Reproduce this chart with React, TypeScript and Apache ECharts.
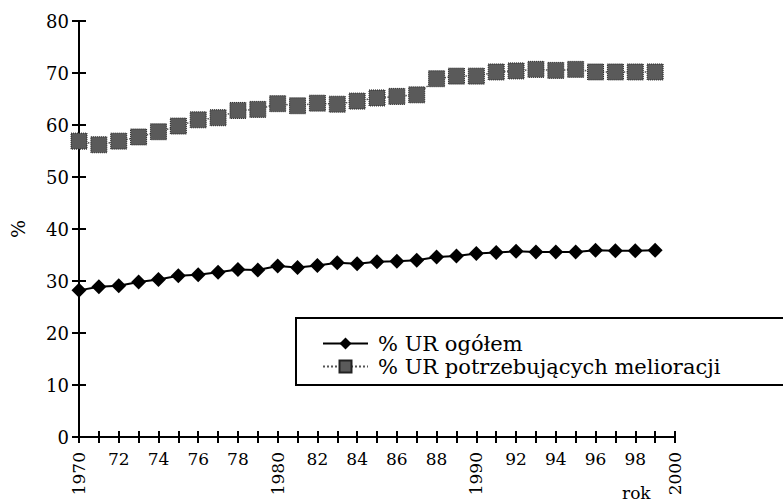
import React, { useEffect, useRef } from "react";
import * as echarts from "echarts";

const years = [1970, 1971, 1972, 1973, 1974, 1975, 1976, 1977, 1978, 1979, 1980, 1981, 1982, 1983, 1984, 1985, 1986, 1987, 1988, 1989, 1990, 1991, 1992, 1993, 1994, 1995, 1996, 1997, 1998, 1999];
const ogolem = [28.2, 28.9, 29.1, 29.8, 30.3, 31.0, 31.2, 31.7, 32.2, 32.1, 32.9, 32.6, 33.0, 33.5, 33.3, 33.7, 33.8, 34.0, 34.6, 34.8, 35.3, 35.5, 35.7, 35.6, 35.6, 35.6, 35.9, 35.8, 35.8, 35.9];
const melioracji = [56.9, 56.2, 56.9, 57.7, 58.7, 59.8, 61.0, 61.4, 62.8, 63.0, 64.1, 63.7, 64.2, 64.0, 64.6, 65.2, 65.5, 65.8, 68.9, 69.4, 69.4, 70.2, 70.4, 70.7, 70.5, 70.7, 70.2, 70.2, 70.2, 70.2];
const seriesNames = ["% UR ogółem", "% UR potrzebujących melioracji"];
const yAxisName = "%";
const xAxisName = "rok";

const FONT = "DejaVu Serif";

export default function App() {
  const ref = useRef<HTMLDivElement>(null);
  useEffect(() => {
    document.body.style.margin = "0";
    const chart = echarts.init(ref.current!, null, { renderer: "svg" });
    const xBase = {
      type: "value",
      position: "bottom",
      min: 1970,
      max: 2000,
      interval: 1,
      splitLine: { show: false },
      axisLine: { show: true, onZero: false, lineStyle: { color: "#000", width: 2 } },
    };
    const yBase = {
      type: "value",
      position: "left",
      min: 0,
      max: 80,
      interval: 10,
      splitLine: { show: false },
      axisLine: { show: true, onZero: false, lineStyle: { color: "#000", width: 2 } },
    };
    chart.setOption({
      animation: false,
      backgroundColor: "#fff",
      textStyle: { fontFamily: FONT },
      grid: { left: 79, right: 108, top: 21, bottom: 67, containLabel: false },
      xAxis: [
        {
          ...xBase,
          axisTick: { show: true, inside: false, length: 6, lineStyle: { color: "#000", width: 2 } },
          axisLabel: {
            show: true,
            margin: 13,
            color: "#000",
            fontFamily: FONT,
            fontSize: 17,
            formatter: (v: number) => (v % 2 === 0 && v % 10 !== 0 ? String(v % 100) : ""),
          },
        },
        {
          ...xBase,
          offset: 0,
          axisLine: { show: false },
          axisTick: { show: true, inside: true, length: 6, lineStyle: { color: "#000", width: 2 } },
          axisLabel: {
            show: true,
            rotate: 90,
            margin: 15,
            color: "#000",
            fontFamily: FONT,
            fontSize: 17,
            formatter: (v: number) => (v % 10 === 0 ? String(v) : ""),
          },
        },
      ],
      yAxis: [
        {
          ...yBase,
          name: yAxisName,
          nameLocation: "middle",
          nameRotate: 90,
          nameGap: 52,
          nameTextStyle: { color: "#000", fontFamily: FONT, fontSize: 19 },
          axisTick: { show: true, inside: false, length: 7, lineStyle: { color: "#000", width: 2 } },
          axisLabel: { margin: 10, color: "#000", fontFamily: FONT, fontSize: 18 },
        },
        {
          ...yBase,
          offset: 0,
          axisLine: { show: false },
          axisTick: { show: true, inside: true, length: 7, lineStyle: { color: "#000", width: 2 } },
          axisLabel: { show: false },
        },
      ],
      legend: {
        show: true,
        orient: "vertical",
        left: 296,
        top: 318,
        selectedMode: false,
        borderColor: "#000",
        borderWidth: 2,
        borderRadius: 0,
        padding: [14, 300, 7, 26],
        itemWidth: 45,
        itemHeight: 15,
        itemGap: 0,
        textStyle: { color: "#000", fontFamily: FONT, fontSize: 21, lineHeight: 23, padding: [0, 0, 0, 5] },
        data: seriesNames,
      },
      series: [
        {
          name: seriesNames[0],
          type: "line",
          xAxisIndex: 0,
          yAxisIndex: 0,
          data: years.map((y, i) => [y, ogolem[i]]),
          symbol: "diamond",
          symbolSize: 15,
          itemStyle: { color: "#000" },
          lineStyle: { color: "#000", width: 2 },
          z: 3,
        },
        {
          name: seriesNames[1],
          type: "line",
          xAxisIndex: 0,
          yAxisIndex: 0,
          data: years.map((y, i) => [y, melioracji[i]]),
          symbol: "rect",
          symbolSize: 16,
          itemStyle: { color: "#5a5a5a", borderColor: "#222", borderWidth: 1, borderType: "dotted" },
          lineStyle: { color: "#555", width: 1.5, type: "dotted" },
          z: 2,
        },
      ],
      graphic: [
        {
          type: "text",
          left: 622,
          top: 484,
          style: { text: xAxisName, fill: "#000", fontFamily: FONT, fontSize: 17 },
        },
      ],
    });
    return () => chart.dispose();
  }, []);
  return <div ref={ref} style={{ width: 783, height: 504 }} />;
}
